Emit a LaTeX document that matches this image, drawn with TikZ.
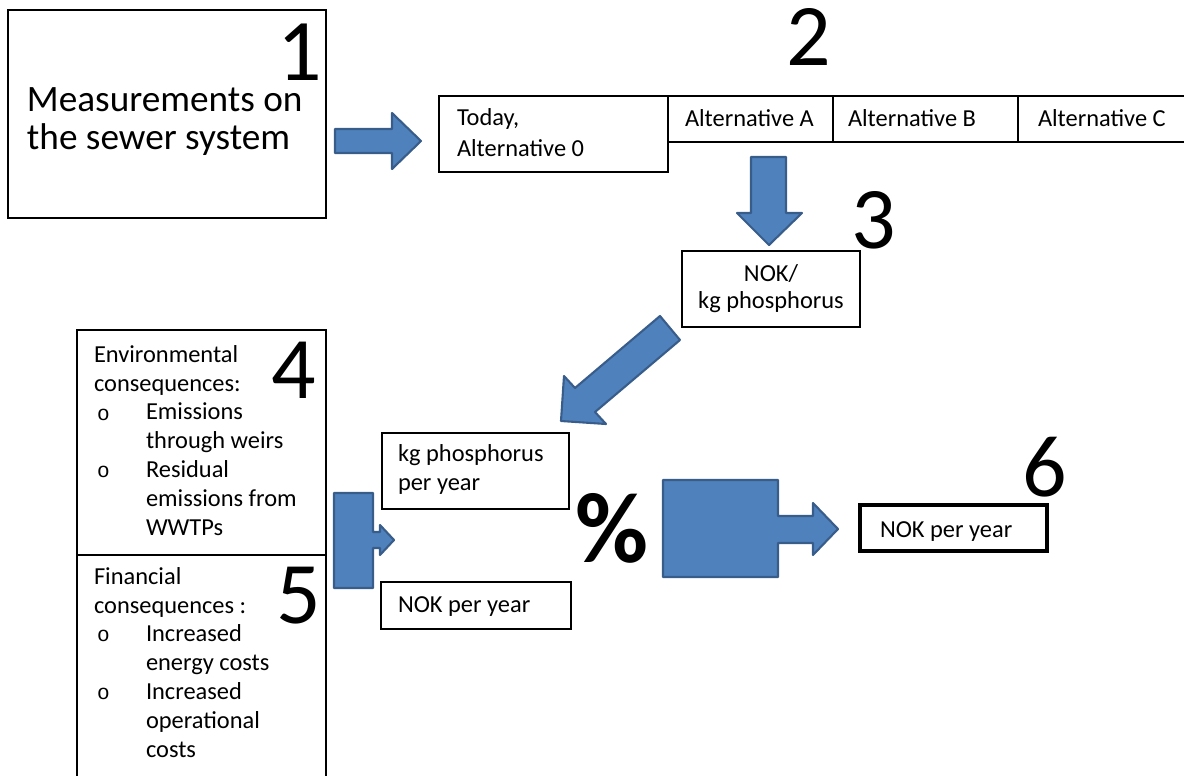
\documentclass[tikz,border=0pt]{standalone}
\usepackage{fontspec}
\setmainfont{Carlito}
\newfontfamily\bulletfont{Liberation Mono}
\usetikzlibrary{fit}
\definecolor{arrowfill}{RGB}{79,129,189}
\definecolor{arrowline}{RGB}{56,93,138}

\begin{document}
\begin{tikzpicture}[x=0.02cm,y=-0.02cm,
  box/.style={draw, line width=0.9pt, inner sep=0pt, outer sep=0pt},
  txt/.style={inner sep=0pt, outer sep=0pt, anchor=base west, align=left, font=\fontsize{13.9}{16.4}\selectfont},
  bigtxt/.style={txt, font=\fontsize{21.2}{21.6}\selectfont},
  bullet/.style={txt, font=\bulletfont\fontsize{12}{12}\selectfont},
  num/.style={inner sep=0pt, outer sep=0pt, anchor=base west, font=\fontsize{50}{50}\selectfont},
  blockarrow/.style={fill=arrowfill, draw=arrowline, line width=1.2pt, line join=round}]
\clip (0,0) rectangle (1184,775);

%boxes
\node[box, fit={(8,10) (326,218)}] (meas) {};
\node[box, fit={(439,96) (668,172)}] (today) {};
\node[box, fit={(668,96) (833,142)}] (altA) {};
\node[box, fit={(833,96) (1018,142)}] (altB) {};
\node[box, fit={(1018,96) (1200,142)}] (altC) {};
\node[box, fit={(682,251) (860,327)}] (nokkg) {};
\node[box, fit={(77,330) (326,555)}] (env) {};
\node[box, fit={(77,555) (326,800)}] (fin) {};
\node[box, fit={(382,433) (569,509)}] (kgyear) {};
\node[box, fit={(381,582) (571,629)}] (nokyear) {};
\node[box, line width=1.8pt, fit={(860,505) (1047,551)}] (result) {};

%texts (multi-line nodes sit on their last baseline)
\node[bigtxt] (meastxt) at (27,149) {Measurements on\\the sewer system};
\node[txt, font=\fontsize{13.9}{17.4}\selectfont] (todaytxt) at (457,156) {Today,\\Alternative 0};
\node[txt] (altAtxt) at (685,126) {Alternative A};
\node[txt] (altBtxt) at (848,126) {Alternative B};
\node[txt] (altCtxt) at (1038,126) {Alternative C};
\node[txt, anchor=base, align=center, font=\fontsize{13.9}{15}\selectfont] (nokkgtxt) at (771,308) {NOK/\\kg phosphorus};

\node[txt] (envtxt) at (94,391) {Environmental\\consequences:};
\node[bullet] (envb1) at (97,420) {o};
\node[txt] (envi1) at (146,448) {Emissions\\through weirs};
\node[bullet] (envb2) at (97,477) {o};
\node[txt] (envi2) at (146,535) {Residual\\emissions from\\WWTPs};

\node[txt] (fintxt) at (94,613) {Financial\\consequences :};
\node[bullet] (finb1) at (97,641) {o};
\node[txt] (fini1) at (146,670) {Increased\\energy costs};
\node[bullet] (finb2) at (97,699) {o};
\node[txt] (fini2) at (146,757) {Increased\\operational\\costs};

\node[txt] (kgyeartxt) at (398,490) {kg phosphorus\\per year};
\node[txt] (nokyeartxt) at (398,612) {NOK per year};
\node[txt] (resulttxt) at (880,537) {NOK per year};

%numbers
\node[num] (n1) at (277,80) {1};
\node[num] (n2) at (786,65) {2};
\node[num] (n3) at (851,248) {3};
\node[num] (n4) at (271,398) {4};
\node[num] (n5) at (276,623) {5};
\node[num] (n6) at (1022,496) {6};
\node[num, font=\bfseries\fontsize{57}{57}\selectfont] (pct) at (575,562) {\%};

%block arrows
\draw[blockarrow] (335,129) -- (392,129) -- (392,113) -- (421,141) -- (392,169) -- (392,153) -- (335,153) -- cycle; %1 to 2
\draw[blockarrow] (751,157) -- (786,157) -- (786,213) -- (802,213) -- (769,245) -- (737,213) -- (751,213) -- cycle; %2 to 3
\draw[blockarrow] (660,316) -- (575,388) -- (564,376) -- (561,421) -- (606,424) -- (595,412) -- (680,340) -- cycle; %3 down left
\draw[blockarrow] (334,493) -- (373,493) -- (373,532) -- (380,532) -- (380,525) -- (394,540) -- (380,555) -- (380,548) -- (373,548) -- (373,588) -- (334,588) -- cycle; %4+5
\draw[blockarrow] (663,480) -- (778,480) -- (778,516) -- (813,516) -- (813,503) -- (838,529) -- (813,555) -- (813,543) -- (778,543) -- (778,577) -- (663,577) -- cycle; %to 6
\end{tikzpicture}
\end{document}
